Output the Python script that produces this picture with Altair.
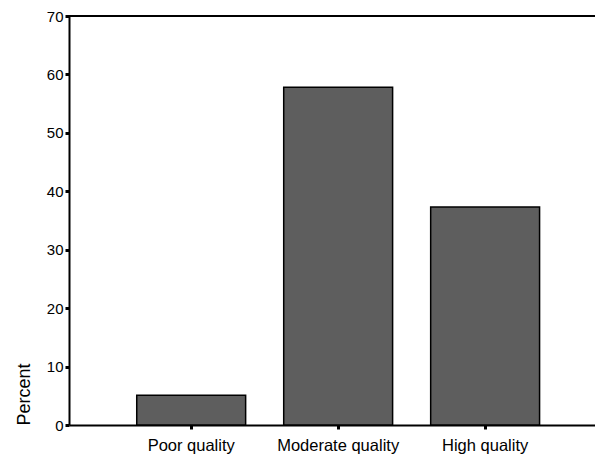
import altair as alt
import pandas as pd

categories = ["Poor quality", "Moderate quality", "High quality"]
percent = [5.1, 57.8, 37.3]

df = pd.DataFrame({"quality": categories, "percent": percent})

FONT = "Liberation Sans"

bars = alt.Chart(df).mark_bar(
    color="#5e5e5e", stroke="#000000", strokeWidth=1.5
).encode(
    x=alt.X(
        "quality:N",
        sort=categories,
        title=None,
        scale=alt.Scale(paddingInner=0.259, paddingOuter=0.419, align=0.55),
        axis=alt.Axis(
            labelAngle=0,
            labelFont=FONT,
            labelFontSize=16.5,
            labelColor="#000000",
            labelPadding=8,
            tickSize=4,
            tickWidth=3,
            tickColor="#000000",
            domainColor="#000000",
            domainWidth=2,
            grid=False,
        ),
    ),
    y=alt.Y(
        "percent:Q",
        title="Percent",
        scale=alt.Scale(domain=[0, 70], nice=False),
        axis=alt.Axis(
            values=[0, 10, 20, 30, 40, 50, 60, 70],
            labelFont=FONT,
            labelFontSize=15,
            labelColor="#000000",
            labelPadding=2,
            tickSize=4,
            tickWidth=3,
            tickColor="#000000",
            domainColor="#000000",
            domainWidth=2,
            grid=False,
            titleFont=FONT,
            titleFontSize=18,
            titleFontWeight="normal",
            titleColor="#000000",
            titleAnchor="start",
            titlePadding=13,
        ),
    ),
)

top_line = alt.Chart(pd.DataFrame({"y": [70]})).mark_rule(
    color="#000000", strokeWidth=2
).encode(y="y:Q", x=alt.value(0), x2=alt.value(526))

chart = (bars + top_line).properties(
    width=526,
    height=409,
    padding={"left": 61, "top": 8, "right": 0, "bottom": 34},
    autosize=alt.AutoSizeParams(type="none"),
).configure_view(stroke=None).configure(background="#ffffff")

chart.save("out.html", embed_options={"renderer": "svg", "actions": False})
